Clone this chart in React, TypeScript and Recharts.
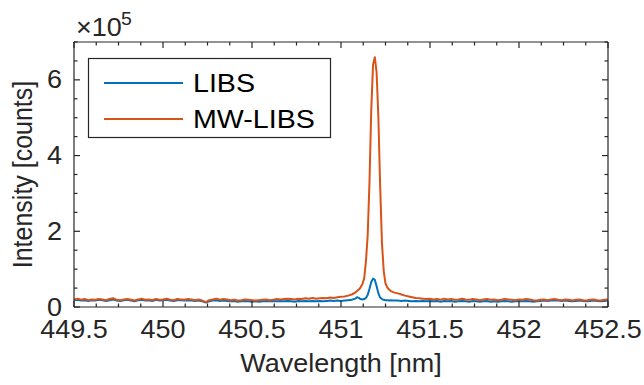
import React from 'react';
import { LineChart, Line, XAxis, YAxis } from 'recharts';

// wavelength grid [nm]
const wavelength = [
  449.5, 449.52, 449.54, 449.56, 449.58, 449.6, 449.62, 449.64, 449.66, 449.68,
  449.7, 449.72, 449.74, 449.76, 449.78, 449.8, 449.82, 449.84, 449.86, 449.88,
  449.9, 449.92, 449.94, 449.96, 449.98, 450.0, 450.02, 450.04, 450.06, 450.08,
  450.1, 450.12, 450.14, 450.16, 450.18, 450.2, 450.22, 450.24, 450.26, 450.28,
  450.3, 450.32, 450.34, 450.36, 450.38, 450.4, 450.42, 450.44, 450.46, 450.48,
  450.5, 450.52, 450.54, 450.56, 450.58, 450.6, 450.62, 450.64, 450.66, 450.68,
  450.7, 450.72, 450.74, 450.76, 450.78, 450.8, 450.82, 450.84, 450.86, 450.88,
  450.9, 450.92, 450.94, 450.96, 450.98, 451.0, 451.02, 451.04, 451.06, 451.08,
  451.09, 451.1, 451.11, 451.12, 451.13, 451.14, 451.15, 451.16, 451.17, 451.18,
  451.19, 451.2, 451.21, 451.22, 451.23, 451.24, 451.25, 451.26, 451.27, 451.28,
  451.29, 451.3,
  451.32, 451.34, 451.36, 451.38, 451.4, 451.42, 451.44, 451.46, 451.48, 451.5,
  451.52, 451.54, 451.56, 451.58, 451.6, 451.62, 451.64, 451.66, 451.68, 451.7,
  451.72, 451.74, 451.76, 451.78, 451.8, 451.82, 451.84, 451.86, 451.88, 451.9,
  451.92, 451.94, 451.96, 451.98, 452.0, 452.02, 452.04, 452.06, 452.08, 452.1,
  452.12, 452.14, 452.16, 452.18, 452.2, 452.22, 452.24, 452.26, 452.28, 452.3,
  452.32, 452.34, 452.36, 452.38, 452.4, 452.42, 452.44, 452.46, 452.48, 452.5,
];

// intensities in thousands of counts
const libs = [
  18, 19, 17, 18, 16, 18, 17, 19, 18, 16,
  18, 20, 17, 16, 18, 19, 17, 15, 18, 19,
  17, 18, 16, 19, 17, 18, 19, 17, 16, 18,
  18, 17, 18, 17, 16, 17, 15, 12, 15, 17,
  18, 16, 17, 16, 15, 16, 14, 15, 16, 15,
  14, 15, 14, 15, 16, 15, 16, 15, 16, 15,
  16, 15, 14, 16, 15, 16, 15, 16, 15, 16,
  15, 16, 17, 16, 17, 16, 17, 18, 19, 22,
  26, 24, 21, 20, 21, 24, 32, 48, 66, 75,
  72, 55, 36, 25, 21, 19, 18, 18, 17, 18,
  17, 17,
  17, 16, 17, 16, 15, 16, 15, 16, 15, 16,
  15, 16, 14, 16, 15, 16, 14, 15, 16, 15,
  14, 16, 15, 14, 15, 16, 14, 15, 14, 15,
  16, 15, 14, 15, 16, 15, 16, 15, 14, 15,
  16, 17, 16, 17, 18, 17, 16, 17, 16, 15,
  16, 17, 16, 15, 16, 17, 16, 15, 16, 17,
];

const mwLibs = [
  20, 22, 19, 21, 18, 20, 19, 21, 20, 18,
  21, 23, 19, 18, 20, 21, 19, 17, 20, 22,
  19, 20, 18, 21, 19, 20, 22, 19, 18, 21,
  20, 19, 21, 20, 18, 20, 17, 13, 18, 20,
  22, 19, 21, 20, 18, 19, 17, 18, 20, 19,
  18, 17, 18, 19, 20, 18, 19, 21, 20, 21,
  22, 21, 20, 22, 21, 23, 22, 24, 22, 23,
  24, 23, 25, 24, 26, 27, 28, 30, 33, 38,
  42, 46, 52, 60, 75, 120, 190, 330, 520, 640,
  660, 620, 500, 320, 170, 95, 62, 52, 46, 42,
  40, 38,
  36, 33, 30, 28, 26, 24, 23, 22, 21, 22,
  20, 21, 19, 22, 20, 21, 19, 20, 22, 20,
  19, 21, 20, 18, 20, 21, 19, 20, 18, 19,
  21, 20, 19, 18, 20, 19, 21, 20, 18, 17,
  19, 20, 18, 20, 21, 19, 18, 20, 19, 17,
  19, 20, 18, 17, 19, 20, 18, 17, 19, 20,
];

const xTicks = [
  449.5, 449.625, 449.75, 449.875, 450, 450.125, 450.25, 450.375, 450.5,
  450.625, 450.75, 450.875, 451, 451.125, 451.25, 451.375, 451.5,
  451.625, 451.75, 451.875, 452, 452.125, 452.25, 452.375, 452.5,
];
const yTicks = [0, 50, 100, 150, 200, 250, 300, 350, 400, 450, 500, 550, 600, 650, 700];

const FONT = '"Liberation Sans", Arial, Helvetica, sans-serif';
const AX = '#262626';
const SX = 1.08; // figure is a bit stretched horizontally
const FS = 25;

const rows = wavelength.map((w, i) => ({ w, libs: libs[i], mw: mwLibs[i] }));

const isMajorX = (v: number) => Math.abs(v * 2 - Math.round(v * 2)) < 1e-6;
const isMajorY = (v: number) => v % 200 === 0;

const BottomTick = (props: any) => {
  const { x, y, payload } = props;
  const v = payload.value;
  const major = isMajorX(v);
  return (
    <g>
      <line x1={x} y1={y} x2={x} y2={y - (major ? 6 : 3.5)} stroke={AX} strokeWidth={1.2} />
      {major && (
        <text transform={`translate(${x},${y + 31}) scale(${SX},1)`} textAnchor="middle"
          fontFamily={FONT} fontSize={FS} fill={AX}>
          {String(v)}
        </text>
      )}
    </g>
  );
};

const TopTick = (props: any) => {
  const { x, y, payload } = props;
  const major = isMajorX(payload.value);
  return <line x1={x} y1={y} x2={x} y2={y + (major ? 6 : 3.5)} stroke={AX} strokeWidth={1.2} />;
};

const LeftTick = (props: any) => {
  const { x, y, payload } = props;
  const v = payload.value;
  const major = isMajorY(v);
  return (
    <g>
      <line x1={x} y1={y} x2={x + (major ? 6 : 3.5)} y2={y} stroke={AX} strokeWidth={1.2} />
      {major && (
        <text transform={`translate(${x - 12},${y + 8.5}) scale(${SX},1)`} textAnchor="end"
          fontFamily={FONT} fontSize={FS} fill={AX}>
          {String(v / 100)}
        </text>
      )}
    </g>
  );
};

const RightTick = (props: any) => {
  const { x, y, payload } = props;
  const major = isMajorY(payload.value);
  return <line x1={x} y1={y} x2={x - (major ? 6 : 3.5)} y2={y} stroke={AX} strokeWidth={1.2} />;
};

const App: React.FC = () => {
  return (
    <div style={{ position: 'absolute', left: 0, top: 0, width: 644, height: 385, background: '#fff' }}>
      <LineChart width={644} height={385} data={rows} margin={{ top: 41, right: 35, bottom: 0, left: 0 }}>
        <XAxis xAxisId="b" dataKey="w" type="number" domain={[449.5, 452.5]} ticks={xTicks}
          interval={0} height={78} tickSize={0} tickMargin={0} tick={<BottomTick />}
          axisLine={{ stroke: AX, strokeWidth: 1.2 }} allowDataOverflow />
        <XAxis xAxisId="t" orientation="top" dataKey="w" type="number" domain={[449.5, 452.5]}
          ticks={xTicks} interval={0} height={1} tickSize={0} tickMargin={0} tick={<TopTick />}
          axisLine={{ stroke: AX, strokeWidth: 1.2 }} allowDataOverflow />
        <YAxis yAxisId="l" type="number" domain={[0, 700]} ticks={yTicks} interval={0} width={74}
          tickSize={0} tickMargin={0} tick={<LeftTick />} axisLine={{ stroke: AX, strokeWidth: 1.2 }}
          allowDataOverflow />
        <YAxis yAxisId="r" orientation="right" type="number" domain={[0, 700]} ticks={yTicks}
          interval={0} width={1} tickSize={0} tickMargin={0} tick={<RightTick />}
          axisLine={{ stroke: AX, strokeWidth: 1.2 }} allowDataOverflow />
        <Line xAxisId="b" yAxisId="l" type="linear" dataKey="libs" stroke="#0072BD" strokeWidth={2}
          dot={false} isAnimationActive={false} strokeLinejoin="round" />
        <Line xAxisId="b" yAxisId="l" type="linear" dataKey="mw" stroke="#D95319" strokeWidth={2}
          dot={false} isAnimationActive={false} strokeLinejoin="round" />
      </LineChart>
      <svg width={644} height={385} style={{ position: 'absolute', left: 0, top: 0, pointerEvents: 'none' }}>
        <text transform={`translate(341,372) scale(${SX},1)`} textAnchor="middle" fontFamily={FONT}
          fontSize={FS} fill={AX}>
          Wavelength [nm]
        </text>
        <text transform={`translate(32,174.5) scale(${SX},1) rotate(-90)`} textAnchor="middle"
          fontFamily={FONT} fontSize={FS} fill={AX}>
          Intensity [counts]
        </text>
        <text transform={`translate(76,36) scale(${SX},1)`} fontFamily={FONT} fontSize={25} fill={AX}>
          ×10
        </text>
        <text transform={`translate(121,25) scale(${SX},1)`} fontFamily={FONT} fontSize={18} fill={AX}>
          5
        </text>
        <rect x={88.5} y={58.5} width={242} height={79} fill="#fff" stroke={AX} strokeWidth={1.2} />
        <line x1={104} y1={83} x2={183} y2={83} stroke="#0072BD" strokeWidth={2} />
        <text transform={`translate(193,92) scale(1.1,1)`} fontFamily={FONT} fontSize={26} fill="#000">
          LIBS
        </text>
        <line x1={104} y1={119} x2={183} y2={119} stroke="#D95319" strokeWidth={2} />
        <text transform={`translate(193,128) scale(1.1,1)`} fontFamily={FONT} fontSize={26} fill="#000">
          MW-LIBS
        </text>
      </svg>
    </div>
  );
};

export default App;
